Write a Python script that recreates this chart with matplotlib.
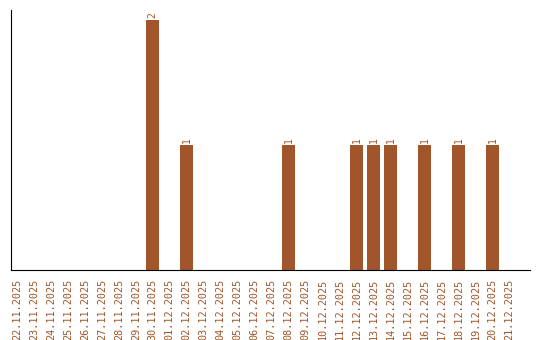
import matplotlib
matplotlib.use('Agg')
import matplotlib.pyplot as plt
import numpy as np

dates = ['22.11.2025', '23.11.2025', '24.11.2025', '25.11.2025', '26.11.2025',
         '27.11.2025', '28.11.2025', '29.11.2025', '30.11.2025', '01.12.2025',
         '02.12.2025', '03.12.2025', '04.12.2025', '05.12.2025', '06.12.2025',
         '07.12.2025', '08.12.2025', '09.12.2025', '10.12.2025', '11.12.2025',
         '12.12.2025', '13.12.2025', '14.12.2025', '15.12.2025', '16.12.2025',
         '17.12.2025', '18.12.2025', '19.12.2025', '20.12.2025', '21.12.2025']
counts = [0, 0, 0, 0, 0, 0, 0, 0, 2, 0,
          1, 0, 0, 0, 0, 0, 1, 0, 0, 0,
          1, 1, 1, 0, 1, 0, 1, 0, 1, 0]

bar_color = '#a0562a'
label_color = '#a0562a'

fig = plt.figure(figsize=(5.4, 3.4), dpi=100)
ax = fig.add_axes([0.02, 0.206, 0.961, 0.764])

x = np.arange(len(dates))
ax.bar(x, counts, width=0.76, color=bar_color)

for xi, v in zip(x, counts):
    if v > 0:
        ax.text(xi, v + 0.02, str(v), rotation=90, ha='center', va='bottom',
                fontsize=7, color=label_color, family='DejaVu Sans Mono')

ax.set_xticks(x)
ax.set_xticklabels(dates, rotation=90, fontsize=7.3, color=label_color,
                   family='DejaVu Sans Mono')
ax.tick_params(axis='x', length=0, pad=6)
ax.set_yticks([])
ax.set_xlim(-0.35, 30.18)
ax.set_ylim(0, 2.08)

ax.spines['top'].set_visible(False)
ax.spines['right'].set_visible(False)

fig.savefig('out.png', dpi=100)
